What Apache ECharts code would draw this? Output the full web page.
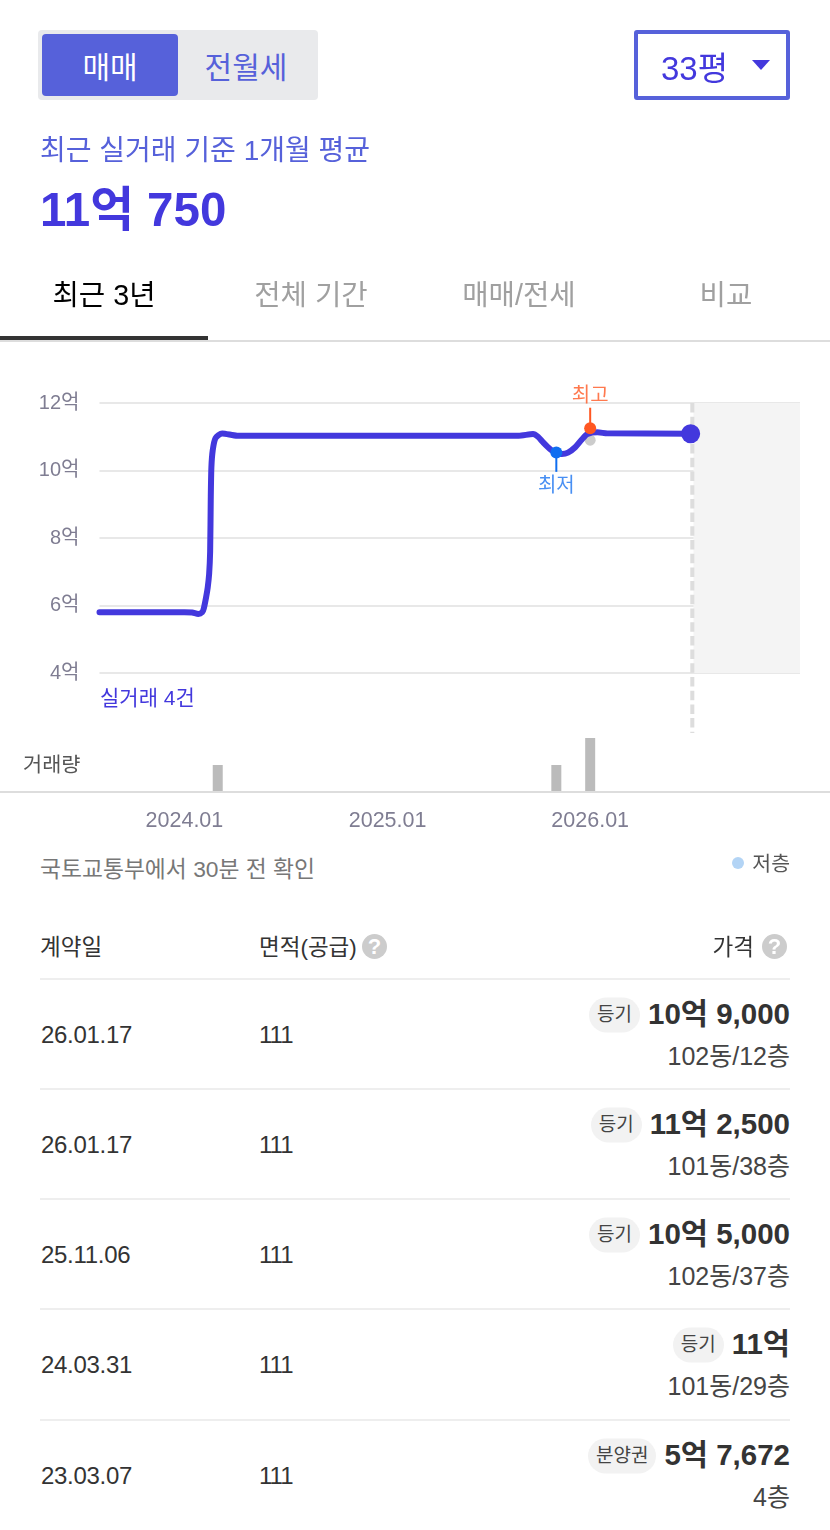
<!DOCTYPE html>
<html>
<head>
<meta charset="utf-8">
<script src="https://cdn.jsdelivr.net/npm/echarts@6/dist/echarts.min.js"></script>
<style>
html,body{margin:0;padding:0;background:#fff;}
body{width:830px;height:1530px;position:relative;overflow:hidden;font-family:"Liberation Sans","Noto Sans CJK KR",sans-serif;}
#main{position:absolute;left:0;top:0;width:830px;height:850px;}
.abs{position:absolute;white-space:nowrap;}
.mid{transform:translateY(-50%);}
.cen{transform:translate(-50%,-50%);}
.help{position:absolute;width:25px;height:25px;border-radius:50%;background:#ccc;color:#fff;font-size:22px;font-weight:bold;line-height:25px;text-align:center;}
.tag{display:inline-block;height:35px;line-height:33px;padding:0 8px;border-radius:18px;background:#f2f2f2;color:#444;font-size:19px;font-weight:normal;margin-right:8px;vertical-align:3px;}
</style>
</head>
<body>
<div id="main"></div>
<div id="page"></div>
<script>
// 월평균 실거래가 곡선 (억)
var lineDates=["2023-08-01","2024-01-01","2024-01-15","2024-01-26","2024-02-02","2024-02-05","2024-02-09","2024-02-12","2024-02-14 12:00","2024-02-16 08:00","2024-02-17 10:00","2024-02-18 14:00","2024-02-21","2024-02-26","2024-03-09","2024-04-05","2025-08-25","2025-09-20","2025-09-29","2025-10-08","2025-10-21","2025-10-30","2025-11-11","2025-11-22","2025-12-05","2025-12-17","2025-12-27","2026-01-14","2026-02-01","2026-07-01"];
var lineValues=[5.80,5.80,5.79,5.75,5.80,5.92,6.24,6.54,6.93,7.60,9.13,10.10,10.60,10.96,11.10,11.03,11.03,11.08,11.00,10.84,10.63,10.53,10.49,10.53,10.69,10.92,11.08,11.13,11.10,11.09];
var endDate="2026-07-01";
var endValue=11.09;
var lowDate="2025-11-01";
var lowValue=10.53;
var highDate="2026-01-01";
var highValue=11.25;
var rawDate="2026-01-01";
var rawValue=10.9;
var barDates=["2024-03-01","2025-11-01","2026-01-01"];
var barCounts=[1,1,2];
var xTicks=["2024-01-01","2025-01-01","2026-01-01"];
var xMin="2023-08-01";
var xMax="2027-01-14";
var todayDate="2026-07-04";
var futureStart="2026-07-06";

// 거래 내역
var contractDates=["26.01.17","26.01.17","25.11.06","24.03.31","23.03.07"];
var areas=["111","111","111","111","111"];
var priceTags=["등기","등기","등기","등기","분양권"];
var prices=["10억 9,000","11억 2,500","10억 5,000","11억","5억 7,672"];
var floors=["102동/12층","101동/38층","102동/37층","101동/29층","4층"];

var BLUE="#4338dd";
var SOFT="#5661da";

function t(s){
	return +echarts.time.parse(s);
}
function pairs(xs,ys){
	var r=[];
	for(var i=0;i<xs.length;i++){
		r.push([t(xs[i]),ys[i]]);
	}
	return r;
}

var xTickTimes=[];
for(var i=0;i<xTicks.length;i++){
	xTickTimes.push(t(xTicks[i]));
}

var myChart=echarts.init(document.getElementById("main"),null,{renderer:"canvas"});
var labelFont='"Liberation Sans","Noto Sans CJK KR",sans-serif';
var option={
	animation:false,
	grid:[
		{left:99.5,right:30,top:403,height:270},
		{left:99.5,right:30,top:738,height:54}
	],
	xAxis:[
		{
			type:"value",gridIndex:0,min:t(xMin),max:t(xMax),scale:true,
			axisLine:{show:false},axisTick:{show:false},axisLabel:{show:false},splitLine:{show:false}
		},
		{
			type:"value",gridIndex:1,min:t(xMin),max:t(xMax),scale:true,
			axisLine:{show:false},axisTick:{show:false},splitLine:{show:false},
			axisLabel:{
				customValues:xTickTimes,
				margin:18,
				color:"#7f7d92",
				fontSize:21.5,
				fontFamily:labelFont,
				formatter:function(value){
					var d=new Date(value);
					var m=d.getMonth()+1;
					return d.getFullYear()+"."+(m<10?"0"+m:m);
				}
			}
		}
	],
	yAxis:[
		{
			type:"value",gridIndex:0,min:4,max:12,interval:2,
			axisLine:{show:false},axisTick:{show:false},
			axisLabel:{
				margin:20,color:"#7f7d92",fontSize:20,fontFamily:labelFont,padding:[5,0,0,0],
				formatter:function(v){return v+"억";}
			},
			splitLine:{lineStyle:{color:"#e8e8e8",width:2}}
		},
		{
			type:"value",gridIndex:1,min:0,max:2,
			axisLine:{show:false},axisTick:{show:false},axisLabel:{show:false},splitLine:{show:false}
		}
	],
	graphic:[
		{type:"text",left:100,top:689,style:{text:"실거래 4건",fill:BLUE,font:"21px "+labelFont}},
		{type:"text",left:23,top:756,style:{text:"거래량",fill:"#555",font:"20.8px "+labelFont}}
	],
	series:[
		{
			// 미래 구간 음영
			type:"line",xAxisIndex:0,yAxisIndex:0,data:[],silent:true,z:1,
			markArea:{silent:true,itemStyle:{color:"#f4f4f4"},data:[[{coord:[t(futureStart),12]},{coord:[t(xMax),4]}]]}
		},
		{
			// 오늘 점선
			type:"line",xAxisIndex:0,yAxisIndex:0,clip:false,symbol:"none",silent:true,z:2,
			data:[[t(todayDate),12],[t(todayDate),2.22]],
			lineStyle:{color:"#ddd",width:4,type:[9.5,4.2]}
		},
		{
			type:"scatter",xAxisIndex:0,yAxisIndex:0,silent:true,z:3,symbolSize:11,
			data:[[t(rawDate),rawValue]],itemStyle:{color:"#ccc",opacity:1}
		},
		{
			type:"line",xAxisIndex:0,yAxisIndex:0,clip:false,symbol:"none",silent:true,z:4,smooth:0.25,
			data:pairs(lineDates,lineValues),
			lineStyle:{color:BLUE,width:6,cap:"round",join:"round"}
		},
		{
			type:"scatter",xAxisIndex:0,yAxisIndex:0,clip:false,silent:true,z:5,symbolSize:19,
			data:[[t(endDate),endValue]],itemStyle:{color:BLUE,opacity:1}
		},
		{
			type:"line",xAxisIndex:0,yAxisIndex:0,clip:false,silent:true,z:5,symbol:"none",
			data:[[t(lowDate),lowValue],[t(lowDate),9.96]],
			lineStyle:{color:"#0f6ef0",width:2}
		},
		{
			type:"line",xAxisIndex:0,yAxisIndex:0,clip:false,silent:true,z:5,symbol:"none",
			data:[[t(highDate),highValue],[t(highDate),11.86]],
			lineStyle:{color:"#ff5722",width:2}
		},
		{
			// 최저/최고 글자
			type:"scatter",xAxisIndex:0,yAxisIndex:0,clip:false,silent:true,z:6,symbolSize:1,
			itemStyle:{color:"transparent"},
			data:[
				{value:[t(lowDate),9.96],label:{show:true,position:"bottom",distance:4,formatter:"최저",color:"#1a73f0",fontSize:20,fontFamily:labelFont}},
				{value:[t(highDate),11.86],label:{show:true,position:"top",distance:1,formatter:"최고",color:"#ff5722",fontSize:20,fontFamily:labelFont}}
			]
		},
		{
			type:"scatter",xAxisIndex:0,yAxisIndex:0,clip:false,silent:true,z:6,symbolSize:12,
			data:[[t(lowDate),lowValue]],itemStyle:{color:"#0f6ef0",opacity:1}
		},
		{
			type:"scatter",xAxisIndex:0,yAxisIndex:0,clip:false,silent:true,z:6,symbolSize:12,
			data:[[t(highDate),highValue]],itemStyle:{color:"#ff5722",opacity:1}
		},
		{
			type:"bar",xAxisIndex:1,yAxisIndex:1,silent:true,barWidth:10,
			data:pairs(barDates,barCounts),itemStyle:{color:"#bbb"}
		}
	]
};
myChart.setOption(option);

// 차트 밖 화면 요소
var html="";
function box(x,y,w,h,css,inner){
	html+="<div class='abs' style='left:"+x+"px;top:"+y+"px;width:"+w+"px;height:"+h+"px;"+css+"'>"+(inner||"")+"</div>";
}
function txt(x,y,size,color,text,extra){
	html+="<div class='abs mid' style='left:"+x+"px;top:"+y+"px;font-size:"+size+"px;color:"+color+";"+(extra||"")+"'>"+text+"</div>";
}
function txtc(x,y,size,color,text,extra){
	html+="<div class='abs cen' style='left:"+x+"px;top:"+y+"px;font-size:"+size+"px;color:"+color+";"+(extra||"")+"'>"+text+"</div>";
}
function txtr(right,y,size,color,text,extra){
	html+="<div class='abs mid' style='right:"+(830-right)+"px;top:"+y+"px;font-size:"+size+"px;color:"+color+";"+(extra||"")+"'>"+text+"</div>";
}

box(38,30,280,70,"background:#e9eaec;border-radius:4px;");
box(42,34,136,62,"background:"+SOFT+";border-radius:4px;");
txtc(110,65,30,"#fff","매매");
txtc(246,65,30,SOFT,"전월세");
box(634,30,148,62,"border:4px solid "+SOFT+";border-radius:3px;");
txt(661,66,33,BLUE,"33평");
box(752,60,0,0,"border-left:9px solid transparent;border-right:9px solid transparent;border-top:10px solid "+BLUE+";");
txt(40,148,28,SOFT,"최근 실거래 기준 1개월 평균");
txt(40,205,47.5,BLUE,"11억 750","font-weight:bold;");

txtc(104,292,28.7,"#000","최근 3년");
txtc(311,292,28.7,"#a0a0a0","전체 기간");
txtc(519,292,28.7,"#a0a0a0","매매/전세");
txtc(726,292,28.7,"#a0a0a0","비교");
box(0,340,830,2,"background:#ddd;");
box(0,336,208,4,"background:#333;");

box(0,791,830,2,"background:#ddd;");
txt(40,867,22.8,"#777","국토교통부에서 30분 전 확인");
box(732,857,12,12,"background:#b3d4f5;border-radius:50%;");
txtr(790,862,20.5,"#555","저층");

txt(40,945,22.5,"#333","계약일");
txt(259,945,22.5,"#333","면적(공급)");
html+="<div class='help' style='left:362px;top:934px;'>?</div>";
txtr(754,945,22.5,"#333","가격");
html+="<div class='help' style='left:762px;top:934px;'>?</div>";

var rowLines=[979,1089,1199,1309,1420];
for(var r=0;r<contractDates.length;r++){
	var y=rowLines[r];
	box(40,y-1,750,2,"background:#eee;");
	txt(41,y+56,24,"#333",contractDates[r],"letter-spacing:-0.3px;");
	txt(259,y+56,24,"#333",areas[r],"letter-spacing:-1px;");
	txtr(790,y+32,29.5,"#333","<span class='tag'>"+priceTags[r]+"</span>"+prices[r],"font-weight:bold;");
	txtr(790,y+75,25,"#444",floors[r]);
}
document.getElementById("page").innerHTML=html;
</script>
</body>
</html>
